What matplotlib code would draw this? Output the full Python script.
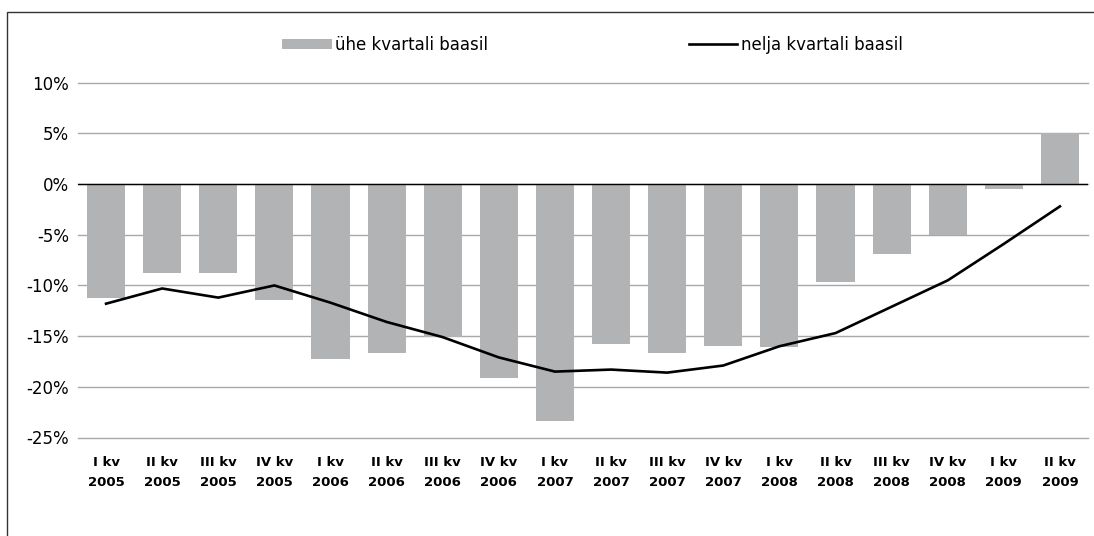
import matplotlib
matplotlib.use("Agg")
import matplotlib.pyplot as plt
from matplotlib.patches import Rectangle
from matplotlib.ticker import FuncFormatter

quarters = ["I kv", "II kv", "III kv", "IV kv"] * 4 + ["I kv", "II kv"]
years = ["2005"] * 4 + ["2006"] * 4 + ["2007"] * 4 + ["2008"] * 4 + ["2009"] * 2
one_quarter = [-11.2, -8.8, -8.8, -11.4, -17.3, -16.7, -15.1, -19.1, -23.4,
               -15.8, -16.7, -16.0, -16.1, -9.7, -6.9, -5.0, -0.5, 5.0]
four_quarters = [-11.8, -10.3, -11.2, -10.0, -11.7, -13.6, -15.1, -17.1, -18.5,
                 -18.3, -18.6, -17.9, -16.0, -14.7, -12.1, -9.5, -5.9, -2.2]
labels = [q + "\n" + y for q, y in zip(quarters, years)]

fig = plt.figure(figsize=(10.94, 5.36), dpi=100)
ax = fig.add_axes([78 / 1094, 1 - 437.5 / 536, 1010 / 1094, 354.8 / 536])

x = range(len(labels))
bars = ax.bar(x, one_quarter, width=0.68, color="#b2b3b5", zorder=2,
              label="ühe kvartali baasil")
line, = ax.plot(x, four_quarters, color="black", lw=1.9, zorder=3,
                label="nelja kvartali baasil")

ax.set_xlim(-0.5, len(labels) - 0.5)
ax.set_ylim(-25, 10)
ax.set_yticks(range(-25, 11, 5))
ax.yaxis.set_major_formatter(FuncFormatter(lambda v, p: f"{v:.0f}%"))
ax.grid(axis="y", color="#a8a8a8", lw=1.0, zorder=0)
for gl in ax.get_ygridlines():
    gl.set_clip_on(False)
ax.axhline(0, color="black", lw=1.0, zorder=2.5)

ax.set_xticks(list(x))
ax.set_xticklabels(labels, fontsize=9.5, fontweight="bold", linespacing=1.7)
ax.tick_params(axis="x", length=0, pad=13)
ax.tick_params(axis="y", length=0, pad=6.5, labelsize=12)
for s in ax.spines.values():
    s.set_visible(False)

leg1 = fig.legend(handles=[bars], loc="center left",
                  bbox_to_anchor=(282 / 1094, 1 - 45 / 536), frameon=False,
                  fontsize=12, handlelength=3.0, handleheight=0.6,
                  handletextpad=0.2, borderpad=0, borderaxespad=0)
leg2 = fig.legend(handles=[line], loc="center left",
                  bbox_to_anchor=(689 / 1094, 1 - 45 / 536), frameon=False,
                  fontsize=12, handlelength=2.9, handletextpad=0.2,
                  borderpad=0, borderaxespad=0)

# outer chart frame (only top and left edge visible in the crop)
fig.add_artist(Rectangle((7 / 1094, -0.1), 1.1, 1.1 - 12 / 536, fill=False,
                         edgecolor="#333333", lw=1.0,
                         transform=fig.transFigure, clip_on=False))

fig.savefig("out.png", dpi=100)
